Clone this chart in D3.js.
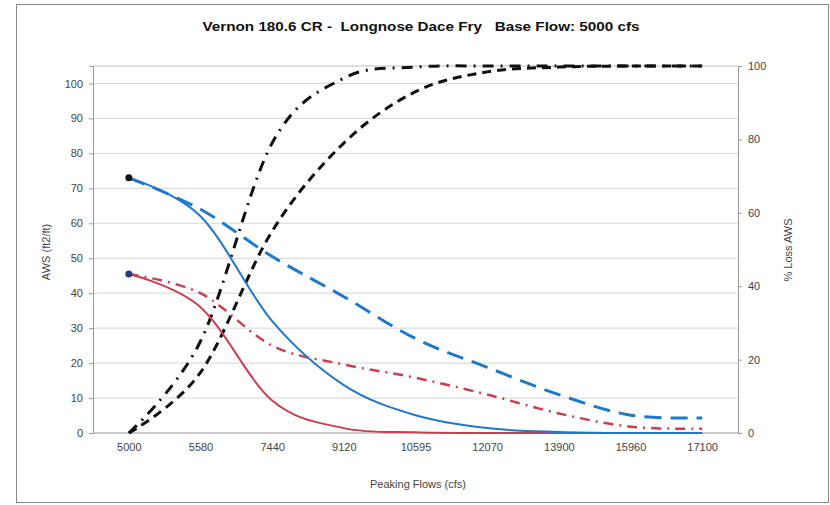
<!DOCTYPE html>
<html>
<head>
<meta charset="utf-8">
<script src="https://cdn.jsdelivr.net/npm/d3@7"></script>
<style>
  body { margin: 0; background: #fff; }
  text { font-family: "Liberation Sans", Arial, sans-serif; }
</style>
</head>
<body>
<script>
const flows = ["5000", "5580", "7440", "9120", "10595", "12070", "13900", "15960", "17100"];

// AWS (ft2/ft), left axis
const awsBlue    = [73, 62, 32, 13.7, 5.1, 1.4, 0.3, 0, 0];
const awsBlueDash = [73, 64, 50.5, 39, 27, 18.8, 11, 5.1, 4.3];
const awsRed     = [45.5, 36, 9.3, 1.4, 0.2, 0, 0, 0, 0];
const awsRedDash = [45.5, 40, 25, 19.6, 15.8, 11, 5.6, 1.8, 1.2];

// % Loss AWS, right axis
const lossDashDot = [0, 25, 79, 96.7, 99.7, 100, 100, 100, 100];
const lossDash    = [0, 16.5, 55, 79, 93, 98.4, 99.7, 100, 100];

const leftTicks = [0, 10, 20, 30, 40, 50, 60, 70, 80, 90, 100];
const rightTicks = [0, 20, 40, 60, 80, 100];

const W = 830, H = 505;
const margin = {top: 66, right: 92, bottom: 72, left: 93};
const width = W - margin.left - margin.right,
      height = H - margin.top - margin.bottom;

const svg = d3.select("body").append("svg")
    .attr("width", W)
    .attr("height", H);

svg.append("rect")
    .attr("x", 16.5).attr("y", 4.5)
    .attr("width", 812).attr("height", 498)
    .attr("fill", "#fff")
    .attr("stroke", "#8a8a8a");

const g = svg.append("g")
    .attr("transform", `translate(${margin.left},${margin.top})`);

const x = d3.scalePoint()
    .domain(flows)
    .range([0, width])
    .padding(0.5);

const yL = d3.scaleLinear().domain([0, 105]).range([height, 0]);
const yR = d3.scaleLinear().domain([0, 100]).range([height, 0]);

// gridlines
g.append("g")
  .selectAll("line")
  .data(leftTicks.filter(d => d > 0))
  .enter().append("line")
    .attr("x1", 0).attr("x2", width)
    .attr("y1", d => yL(d)).attr("y2", d => yL(d))
    .attr("stroke", "#d6d6d6");

g.append("line")
    .attr("x1", 0).attr("x2", width).attr("y1", 0).attr("y2", 0)
    .attr("stroke", "#bfbfbf");

// axes
const axL = g.append("g")
    .call(d3.axisLeft(yL).tickValues(leftTicks).tickSize(4).tickPadding(6));
const axR = g.append("g")
    .attr("transform", `translate(${width},0)`)
    .call(d3.axisRight(yR).tickValues(rightTicks).tickSize(4).tickPadding(6));
const axB = g.append("g")
    .attr("transform", `translate(0,${height})`)
    .call(d3.axisBottom(x).tickSize(0).tickPadding(10));

[axL, axR, axB].forEach(a => {
  a.select(".domain").attr("stroke", "#999");
  a.selectAll(".tick line").attr("stroke", "#999");
  a.selectAll("text").attr("fill", "#444").style("font-size", "11px");
});
axB.select(".domain").attr("d", `M0,0H${width}`);

// lines (Excel-style smoothing)
const lineL = d3.line()
    .x((d, i) => x(flows[i]))
    .y(d => yL(d))
    .curve(d3.curveCardinal.tension(0));
const lineR = d3.line()
    .x((d, i) => x(flows[i]))
    .y(d => yR(d))
    .curve(d3.curveCardinal.tension(0));

const series = [
  {vals: lossDash, line: lineR, color: "#111", w: 3, dash: "9,6"},
  {vals: lossDashDot, line: lineR, color: "#111", w: 3, dash: "11,7,2,7"},
  {vals: awsRedDash, line: lineL, color: "#c8404f", w: 2.5, dash: "10,6,2,6"},
  {vals: awsBlueDash, line: lineL, color: "#1f78c8", w: 3, dash: "17,9"},
  {vals: awsRed, line: lineL, color: "#c8404f", w: 2, dash: null},
  {vals: awsBlue, line: lineL, color: "#1f78c8", w: 2, dash: null}
];

g.selectAll(".series")
  .data(series)
  .enter().append("path")
    .attr("class", "series")
    .attr("d", d => d.line(d.vals))
    .attr("fill", "none")
    .attr("stroke", d => d.color)
    .attr("stroke-width", d => d.w)
    .attr("stroke-dasharray", d => d.dash);

// start markers
g.append("circle")
    .attr("cx", x(flows[0])).attr("cy", yL(awsBlue[0]))
    .attr("r", 3.5).attr("fill", "#111");
g.append("circle")
    .attr("cx", x(flows[0])).attr("cy", yL(awsRed[0]))
    .attr("r", 3.5).attr("fill", "#2a3a7a");

// titles
svg.append("text")
    .attr("x", 421).attr("y", 31)
    .attr("text-anchor", "middle")
    .style("font-size", "13px")
    .style("font-weight", "bold")
    .attr("fill", "#111")
    .attr("xml:space", "preserve")
    .attr("textLength", 437)
    .attr("lengthAdjust", "spacingAndGlyphs")
    .text("Vernon 180.6 CR -  Longnose Dace Fry   Base Flow: 5000 cfs");

svg.append("text")
    .attr("x", 418).attr("y", 488)
    .attr("text-anchor", "middle")
    .style("font-size", "11px")
    .attr("fill", "#444")
    .text("Peaking Flows (cfs)");

svg.append("text")
    .attr("transform", "translate(50,252) rotate(-90)")
    .attr("text-anchor", "middle")
    .style("font-size", "11px")
    .attr("fill", "#444")
    .text("AWS (ft2/ft)");

svg.append("text")
    .attr("transform", "translate(792,250) rotate(-90)")
    .attr("text-anchor", "middle")
    .style("font-size", "11px")
    .attr("fill", "#444")
    .text("% Loss AWS");
</script>
</body>
</html>
